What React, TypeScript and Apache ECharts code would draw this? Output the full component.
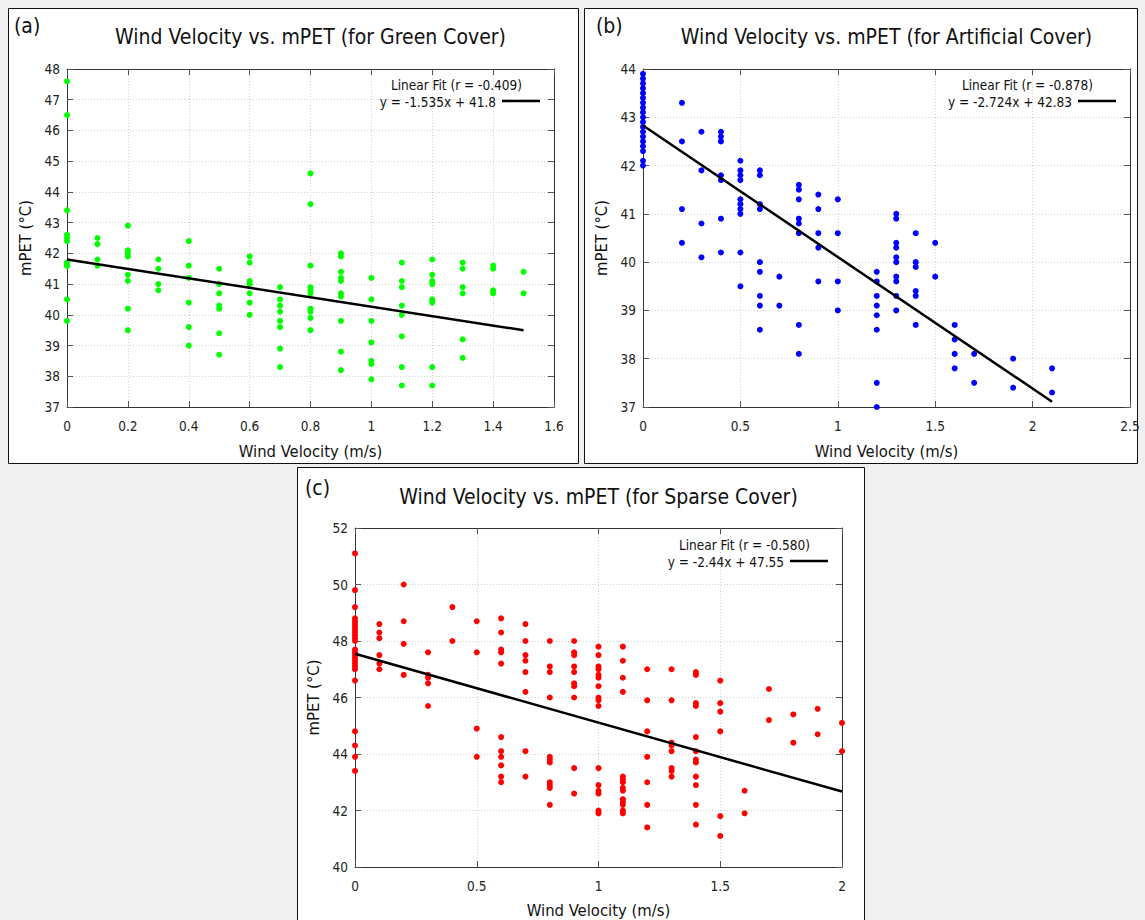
import React, { useEffect, useRef } from "react";
import * as echarts from "echarts";

const FONT = "'DejaVu Sans Condensed', 'DejaVu Sans', sans-serif";

// ---------- Panel (a): Green cover ----------
const velocitiesA = [0, 0.1, 0.2, 0.3, 0.4, 0.5, 0.6, 0.7, 0.8, 0.9, 1.0, 1.1, 1.2, 1.3, 1.4, 1.5];
const mpetA = [
  [47.6, 46.5, 43.4, 42.6, 42.5, 42.4, 41.7, 41.6, 41.6, 40.5, 39.8],
  [42.5, 42.3, 41.8, 41.6],
  [42.9, 42.1, 42.0, 41.9, 41.3, 41.1, 40.2, 39.5],
  [41.8, 41.5, 41.0, 40.8],
  [42.4, 41.6, 41.2, 40.4, 39.6, 39.0],
  [41.5, 41.0, 40.7, 40.3, 40.2, 39.4, 38.7],
  [41.9, 41.7, 41.1, 41.0, 40.7, 40.4, 40.0],
  [40.9, 40.5, 40.3, 40.1, 39.8, 39.6, 38.9, 38.3],
  [44.6, 43.6, 41.6, 40.9, 40.8, 40.7, 40.2, 40.1, 39.9, 39.5],
  [42.0, 41.9, 41.4, 41.2, 41.1, 40.7, 40.6, 39.8, 38.8, 38.2],
  [41.2, 40.5, 39.8, 39.1, 38.5, 38.4, 37.9],
  [41.7, 41.1, 40.9, 40.3, 40.0, 39.3, 38.3, 37.7],
  [41.8, 41.3, 41.1, 41.0, 40.5, 40.4, 38.3, 37.7],
  [41.7, 41.5, 40.9, 40.7, 39.2, 38.6],
  [41.6, 41.5, 40.8, 40.7],
  [41.4, 40.7],
];
const fitA = { slope: -1.535, intercept: 41.8, xEnd: 1.5 };
const legendA = ["Linear Fit (r = -0.409)", "y = -1.535x + 41.8"];

// ---------- Panel (b): Artificial cover ----------
const velocitiesB = [0, 0.2, 0.3, 0.4, 0.5, 0.6, 0.7, 0.8, 0.9, 1.0, 1.2, 1.3, 1.4, 1.5, 1.6, 1.7, 1.9, 2.1];
const mpetB = [
  [42.0, 42.1, 42.3, 42.4, 42.5, 42.6, 42.7, 42.8, 42.9, 43.0, 43.1, 43.2, 43.3, 43.4, 43.5, 43.6, 43.7, 43.8, 43.9],
  [43.3, 42.5, 41.1, 40.4],
  [42.7, 41.9, 40.8, 40.1],
  [42.7, 42.6, 42.5, 41.8, 41.7, 40.9, 40.2],
  [42.1, 41.9, 41.8, 41.7, 41.3, 41.2, 41.1, 41.0, 40.2, 39.5],
  [41.9, 41.8, 41.2, 41.1, 40.0, 39.8, 39.3, 39.1, 38.6],
  [39.7, 39.1],
  [41.6, 41.5, 41.3, 40.9, 40.8, 40.6, 38.7, 38.1],
  [41.4, 41.1, 40.6, 40.3, 39.6],
  [41.3, 40.6, 39.6, 39.0],
  [39.8, 39.6, 39.3, 39.1, 38.9, 38.6, 37.5, 37.0],
  [41.0, 40.9, 40.4, 40.3, 40.1, 40.0, 39.7, 39.6, 39.3, 39.0],
  [40.6, 40.0, 39.9, 39.4, 39.3, 38.7],
  [40.4, 39.7],
  [38.7, 38.4, 38.1, 37.8],
  [38.1, 37.5],
  [38.0, 37.4],
  [37.8, 37.3],
];
const fitB = { slope: -2.724, intercept: 42.83, xEnd: 2.1 };
const legendB = ["Linear Fit (r = -0.878)", "y = -2.724x + 42.83"];

// ---------- Panel (c): Sparse cover ----------
const velocitiesC = [0, 0.1, 0.2, 0.3, 0.4, 0.5, 0.6, 0.7, 0.8, 0.9, 1.0, 1.1, 1.2, 1.3, 1.4, 1.5, 1.6, 1.7, 1.8, 1.9, 2.0];
const mpetC = [
  [51.1, 49.8, 49.2, 48.8, 48.7, 48.6, 48.5, 48.4, 48.3, 48.2, 48.1, 48.0, 47.7, 47.6, 47.5, 47.4, 47.3, 47.2, 47.1, 47.0, 46.6, 44.8, 44.3, 43.9, 43.4],
  [48.6, 48.3, 48.1, 47.5, 47.2, 47.0],
  [50.0, 48.7, 47.9, 46.8],
  [47.6, 46.8, 46.7, 46.5, 45.7],
  [49.2, 48.0],
  [48.7, 47.6, 44.9, 43.9],
  [48.8, 48.3, 47.7, 47.6, 47.2, 44.6, 44.1, 43.9, 43.6, 43.2, 43.0],
  [48.6, 48.0, 47.5, 47.3, 46.9, 46.2, 44.1, 43.2],
  [48.0, 47.1, 46.9, 46.0, 43.9, 43.8, 43.7, 43.0, 42.9, 42.8, 42.2],
  [48.0, 47.6, 47.5, 47.1, 46.9, 46.5, 46.4, 46.0, 43.5, 42.6],
  [47.8, 47.5, 47.1, 47.0, 46.8, 46.7, 46.4, 46.0, 45.9, 45.7, 43.5, 42.9, 42.7, 42.6, 42.0, 41.9],
  [47.8, 47.3, 46.7, 46.2, 43.2, 43.1, 43.0, 42.8, 42.7, 42.4, 42.3, 42.2, 42.0, 41.9],
  [47.0, 45.9, 44.8, 43.9, 43.0, 42.2, 41.4],
  [47.0, 45.9, 44.4, 44.3, 44.1, 43.5, 43.4, 43.2],
  [46.9, 46.8, 45.8, 45.7, 44.6, 44.1, 43.8, 43.7, 43.2, 42.9, 42.2, 41.5],
  [46.6, 45.8, 45.5, 44.8, 41.8, 41.1],
  [42.7, 41.9],
  [46.3, 45.2],
  [45.4, 44.4],
  [45.6, 44.7],
  [45.1, 44.1],
];
const fitC = { slope: -2.44, intercept: 47.55, xEnd: 2.0 };
const legendC = ["Linear Fit (r = -0.580)", "y = -2.44x + 47.55"];

const xTitle = "Wind Velocity (m/s)";
const yTitle = "mPET (°C)";

function pairs(v: number[], m: number[][]) {
  const out: number[][] = [];
  v.forEach((x, i) => m[i].forEach((y) => out.push([x, y])));
  return out;
}
function fitLine(f: { slope: number; intercept: number; xEnd: number }) {
  return [
    [0, f.intercept],
    [f.xEnd, +(f.intercept + f.slope * f.xEnd).toFixed(4)],
  ];
}

const panels = [
  {
    tag: "(a)", title: "Wind Velocity vs. mPET (for Green Cover)", color: "#00ff00",
    data: pairs(velocitiesA, mpetA), fit: fitLine(fitA), legend: legendA,
    x: [0, 1.6, 0.2], y: [37, 48, 1],
    box: [8, 8, 570, 455], grid: [67, 69, 487, 338], tagPos: [14, 26], titleY: 37,
    leg: [522, 496, 502, 540], legY: [85, 102, 101], xGap: 36,
  },
  {
    tag: "(b)", title: "Wind Velocity vs. mPET (for Artificial Cover)", color: "#0000ff",
    data: pairs(velocitiesB, mpetB), fit: fitLine(fitB), legend: legendB,
    x: [0, 2.5, 0.5], y: [37, 44, 1],
    box: [584, 8, 553, 455], grid: [643, 69, 487, 338], tagPos: [596, 26], titleY: 37,
    leg: [1093, 1072, 1078, 1116], legY: [85, 102, 101], xGap: 36,
  },
  {
    tag: "(c)", title: "Wind Velocity vs. mPET (for Sparse Cover)", color: "#ff0000",
    data: pairs(velocitiesC, mpetC), fit: fitLine(fitC), legend: legendC,
    x: [0, 2, 0.5], y: [40, 52, 2],
    box: [297, 467, 567, 470], grid: [355, 528, 487, 339], tagPos: [305, 488], titleY: 497,
    leg: [810, 784, 790, 828], legY: [545, 562, 561], xGap: 35,
  },
];

export default function App() {
  const ref = useRef<HTMLDivElement>(null);
  useEffect(() => {
    if (!ref.current) return;
    const chart = echarts.init(ref.current, undefined, { renderer: "svg" });
    const grids: any[] = [];
    const xAxes: any[] = [];
    const yAxes: any[] = [];
    const series: any[] = [];
    const graphics: any[] = [];
    const axisLineStyle = { color: "#333", width: 1 };
    const tick = { show: true, inside: true, length: 6, lineStyle: { color: "#555", width: 1 } };
    const split = { show: true, lineStyle: { color: "#d0d0d0", type: [1, 2], width: 1 } };

    panels.forEach((p, i) => {
      const [gl, gt, gw, gh] = p.grid;
      grids.push({ left: gl, top: gt, width: gw, height: gh, show: false, containLabel: false });
      const base = { type: "value", gridIndex: i };
      xAxes.push({
        ...base, position: "bottom", min: p.x[0], max: p.x[1], interval: p.x[2],
        name: xTitle, nameLocation: "middle", nameGap: p.xGap,
        nameTextStyle: { fontSize: 16.5, color: "#111", fontFamily: FONT },
        axisLine: { show: true, onZero: false, lineStyle: axisLineStyle },
        axisTick: tick,
        axisLabel: { fontSize: 13.5, color: "#222", margin: 12, fontFamily: FONT, showMinLabel: true, showMaxLabel: true },
        splitLine: split,
      });
      xAxes.push({
        ...base, position: "top", min: p.x[0], max: p.x[1], interval: p.x[2],
        axisLine: { show: true, onZero: false, lineStyle: axisLineStyle },
        axisTick: tick, axisLabel: { show: false }, splitLine: { show: false },
      });
      yAxes.push({
        ...base, position: "left", min: p.y[0], max: p.y[1], interval: p.y[2],
        name: yTitle, nameLocation: "middle", nameGap: 33,
        nameTextStyle: { fontSize: 16.5, color: "#111", fontFamily: FONT },
        axisLine: { show: true, onZero: false, lineStyle: axisLineStyle },
        axisTick: tick,
        axisLabel: { fontSize: 13.5, color: "#222", margin: 7, fontFamily: FONT, showMinLabel: true, showMaxLabel: true },
        splitLine: split,
      });
      yAxes.push({
        ...base, position: "right", min: p.y[0], max: p.y[1], interval: p.y[2],
        axisLine: { show: true, onZero: false, lineStyle: axisLineStyle },
        axisTick: tick, axisLabel: { show: false }, splitLine: { show: false },
      });
      series.push({
        type: "scatter", xAxisIndex: 2 * i, yAxisIndex: 2 * i, data: p.data,
        symbolSize: 6, itemStyle: { color: p.color, opacity: 1 }, z: 3,
      });
      series.push({
        type: "line", xAxisIndex: 2 * i, yAxisIndex: 2 * i, data: p.fit,
        symbol: "none", lineStyle: { color: "#000", width: 2.5 }, z: 4,
      });

      const [bx, by, bw, bh] = p.box;
      graphics.push({
        type: "rect", z: -10, silent: true,
        shape: { x: bx + 0.5, y: by + 0.5, width: bw, height: bh },
        style: { fill: "#fff", stroke: "#111", lineWidth: 1 },
      });
      graphics.push({
        type: "text", z: 10, x: p.tagPos[0], y: p.tagPos[1],
        style: { text: p.tag, fontSize: 21, fontFamily: FONT, fill: "#111", textAlign: "left", textVerticalAlign: "middle", align: "left", verticalAlign: "middle" },
      });
      graphics.push({
        type: "text", z: 10, x: gl + gw / 2, y: p.titleY,
        style: { text: p.title, fontSize: 21, fontFamily: FONT, fill: "#111", textAlign: "center", textVerticalAlign: "middle", align: "center", verticalAlign: "middle" },
      });
      graphics.push({
        type: "text", z: 10, x: p.leg[0], y: p.legY[0],
        style: { text: p.legend[0], fontSize: 13.5, fontFamily: FONT, fill: "#111", textAlign: "right", textVerticalAlign: "middle", align: "right", verticalAlign: "middle" },
      });
      graphics.push({
        type: "text", z: 10, x: p.leg[1], y: p.legY[1],
        style: { text: p.legend[1], fontSize: 13.5, fontFamily: FONT, fill: "#111", textAlign: "right", textVerticalAlign: "middle", align: "right", verticalAlign: "middle" },
      });
      graphics.push({
        type: "line", z: 10,
        shape: { x1: p.leg[2], y1: p.legY[2], x2: p.leg[3], y2: p.legY[2] },
        style: { stroke: "#000", lineWidth: 2.5 },
      });
    });

    chart.setOption({
      animation: false,
      backgroundColor: "#f0f0f0",
      grid: grids,
      xAxis: xAxes,
      yAxis: yAxes,
      series,
      graphic: { elements: graphics },
    });
    return () => chart.dispose();
  }, []);
  return (
    <div
      ref={ref}
      style={{ position: "absolute", left: 0, top: 0, width: 1145, height: 920 }}
    />
  );
}
